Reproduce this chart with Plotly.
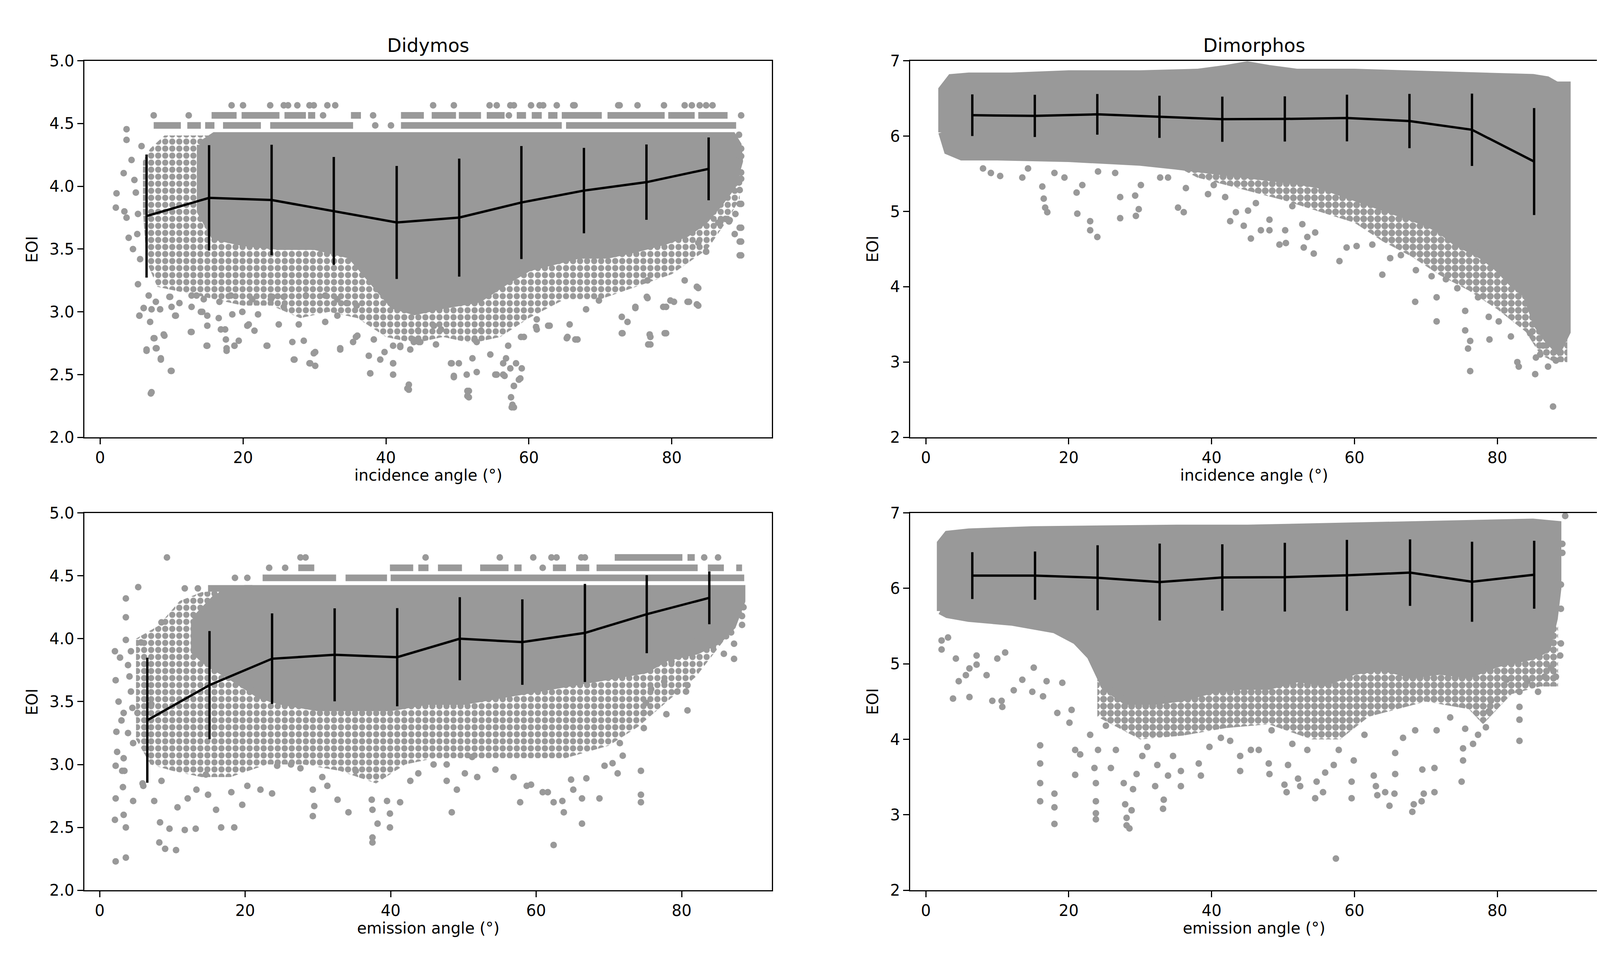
import plotly.graph_objects as go

GRAY = '#999999'
W, H = 4159, 2469

# ---- binned means (black line) and std (error bars) ----
inc_bins = [6.5, 15.25, 24.0, 32.7, 41.5, 50.25, 58.95, 67.7, 76.45, 85.15]
emi_bins_did = [6.55, 15.1, 23.7, 32.3, 40.9, 49.5, 58.1, 66.7, 75.2, 83.8]
emi_bins_dim = [6.5, 15.28, 24.04, 32.73, 41.5, 50.25, 58.94, 67.78, 76.46, 85.16]

did_inc_mean = [3.763, 3.908, 3.891, 3.804, 3.712, 3.751, 3.871, 3.966, 4.033, 4.139]
did_inc_std = [0.49, 0.42, 0.44, 0.43, 0.45, 0.47, 0.45, 0.34, 0.30, 0.25]
dim_inc_mean = [6.277, 6.268, 6.289, 6.256, 6.224, 6.228, 6.240, 6.200, 6.084, 5.662]
dim_inc_std = [0.276, 0.28, 0.27, 0.28, 0.30, 0.30, 0.31, 0.36, 0.48, 0.71]
did_emi_mean = [3.352, 3.631, 3.841, 3.872, 3.853, 4.0, 3.973, 4.046, 4.195, 4.325]
did_emi_std = [0.497, 0.43, 0.36, 0.37, 0.39, 0.33, 0.34, 0.39, 0.31, 0.21]
dim_emi_mean = [6.169, 6.169, 6.141, 6.084, 6.145, 6.149, 6.173, 6.209, 6.088, 6.181]
dim_emi_std = [0.31, 0.32, 0.43, 0.51, 0.44, 0.455, 0.47, 0.44, 0.53, 0.45]

# ---- dense part of each point cloud (outline of marker centres) ----
did_inc_core_x = [14, 16, 88.5, 89.3, 89.5, 88.5, 86.5, 84.5, 82, 79, 75, 71, 67, 63, 60, 57, 53, 48, 44, 41, 38, 35, 30, 25, 20, 16, 14]
did_inc_core_y = [4.33, 4.405, 4.405, 4.33, 4.2, 4.0, 3.85, 3.72, 3.62, 3.56, 3.50, 3.45, 3.45, 3.40, 3.35, 3.25, 3.10, 3.05, 3.0, 3.05, 3.25, 3.45, 3.52, 3.52, 3.55, 3.6, 3.8]
did_inc_halo_x = [6, 7, 9, 88.5, 89.5, 89.5, 88, 85, 80, 75, 70, 65, 60, 56, 52, 48, 44, 40, 36, 32, 28, 24, 20, 16, 12, 8, 6.5, 6]
did_inc_halo_y = [4.2, 4.3, 4.405, 4.405, 4.3, 3.9, 3.75, 3.5, 3.3, 3.2, 3.1, 3.1, 2.95, 2.8, 2.75, 2.8, 2.75, 2.8, 2.95, 3.0, 2.95, 3.05, 3.05, 3.1, 3.15, 3.2, 3.4, 3.8]

dim_inc_core_x = [2.2, 2.2, 3.5, 6, 12, 20, 30, 38, 42, 45, 48, 52, 60, 70, 80, 85, 87, 88.3, 89.8,
                  89.8, 88.5, 87, 85.5, 84, 82, 80, 78, 76, 74, 72, 70, 67, 64, 61, 58, 55, 52, 48, 44, 40, 35, 30, 25, 20, 10, 5, 3]
dim_inc_core_y = [6.05, 6.62, 6.78, 6.80, 6.80, 6.83, 6.83, 6.85, 6.90, 6.95, 6.90, 6.85, 6.85, 6.83, 6.80, 6.78, 6.75, 6.68, 6.68,
                  3.4, 3.15, 3.3, 3.5, 3.9, 4.05, 4.25, 4.4, 4.5, 4.6, 4.75, 4.85, 4.95, 5.05, 5.15, 5.25, 5.35, 5.4, 5.45, 5.5, 5.55, 5.6, 5.65, 5.68, 5.7, 5.72, 5.72, 5.8]
dim_inc_halo_x = [36, 89.8, 89.8, 88, 86, 84, 80, 76, 72, 68, 64, 60, 55, 50, 44, 38, 36]
dim_inc_halo_y = [5.8, 5.8, 3.0, 3.0, 3.1, 3.4, 3.7, 3.95, 4.15, 4.4, 4.6, 4.85, 5.0, 5.15, 5.3, 5.45, 5.55]

did_emi_core_x = [13, 16, 20, 88.3, 88.3, 87, 85, 82, 78, 75, 70, 65, 60, 55, 50, 45, 40, 35, 30, 25, 22, 18, 15, 13]
did_emi_core_y = [4.15, 4.33, 4.40, 4.40, 4.3, 4.1, 3.98, 3.9, 3.85, 3.75, 3.7, 3.65, 3.6, 3.55, 3.5, 3.5, 3.45, 3.45, 3.45, 3.5, 3.55, 3.7, 3.8, 3.9]
did_emi_halo_x = [5, 8, 11, 14, 20, 88.3, 88.3, 86, 82, 78, 74, 70, 64, 58, 52, 46, 42, 38, 33, 28, 23, 18, 14, 10, 7, 5]
did_emi_halo_y = [4.0, 4.1, 4.3, 4.37, 4.40, 4.40, 4.2, 4.0, 3.7, 3.5, 3.3, 3.15, 3.05, 3.05, 3.05, 3.05, 3.0, 2.85, 2.95, 3.0, 3.0, 2.9, 2.9, 2.95, 3.0, 3.2]

dim_emi_core_x = [2.0, 2.0, 3, 6, 15, 25, 35, 45, 55, 65, 75, 85, 88.5, 88.5, 88, 87,
                  85, 80, 76, 72, 68, 64, 60, 56, 52, 48, 44, 40, 36, 32, 28, 25, 23, 21, 18, 12, 6, 3]
dim_emi_core_y = [5.7, 6.6, 6.72, 6.75, 6.78, 6.80, 6.80, 6.80, 6.82, 6.85, 6.87, 6.88, 6.85, 6.0, 5.6, 5.2,
                  5.1, 5.0, 4.85, 4.9, 4.85, 4.95, 4.9, 4.75, 4.8, 4.7, 4.7, 4.65, 4.55, 4.5, 4.5, 4.7, 5.1, 5.3, 5.45, 5.55, 5.6, 5.65]
dim_emi_halo_x = [24, 88.5, 88.5, 86, 82, 78, 76, 70, 66, 62, 58, 54, 48, 42, 36, 30, 24]
dim_emi_halo_y = [5.5, 5.5, 4.7, 4.7, 4.6, 4.2, 4.4, 4.5, 4.4, 4.3, 4.0, 4.0, 4.2, 4.15, 4.05, 4.0, 4.3]

# ---- quantised rows of points near the top of the Didymos clouds: (level, x_start, x_end) ----
did_inc_rows = [
    (4.485, 7.5, 11.3), (4.485, 12.2, 14.1), (4.485, 14.7, 16.0), (4.485, 17.2, 22.5), (4.485, 23.8, 35.4),
    (4.485, 42.1, 64.6), (4.485, 65.2, 89.0),
    (4.565, 15.6, 19.1), (4.565, 19.8, 25.1), (4.565, 25.8, 28.8), (4.565, 29.1, 30.1), (4.565, 35.1, 36.5),
    (4.565, 42.1, 45.3), (4.565, 46.4, 49.8), (4.565, 50.2, 53.3), (4.565, 54.1, 56.6), (4.565, 58.3, 59.6),
    (4.565, 60.4, 61.8), (4.565, 62.7, 64.0), (4.565, 64.6, 70.2), (4.565, 71.0, 79.0), (4.565, 79.5, 83.2),
    (4.565, 83.7, 87.8),
]
did_emi_rows = [
    (4.40, 14.9, 21.0),
    (4.484, 22.4, 32.5), (4.484, 33.8, 39.5), (4.484, 40.0, 88.6),
    (4.564, 27.3, 29.5), (4.564, 39.9, 43.1), (4.564, 43.8, 45.2), (4.564, 46.5, 49.8), (4.564, 52.3, 56.2),
    (4.564, 57.0, 58.0), (4.564, 62.3, 64.1), (4.564, 65.5, 67.3), (4.564, 68.3, 82.2), (4.564, 83.6, 85.8),
    (4.564, 87.5, 88.3),
    (4.646, 70.8, 80.1), (4.646, 80.8, 81.8),
]

# ---- individual scattered points ----
did_inc_pts_x = [
    7.5, 12.4, 31.2, 38.2, 38.5, 40.7, 57.2, 89.7,
    18.4, 20.0, 23.8, 25.7, 26.3, 27.6, 29.3, 29.9, 31.8, 32.9, 46.6, 49.5, 54.5, 55.5, 57.4, 57.9,
    60.3, 61.5, 62.0, 63.9, 66.2, 66.4, 72.5, 72.7, 75.2, 78.9, 81.8, 82.8, 83.9, 84.8, 85.7,
    3.7, 3.7, 4.4, 5.8, 2.3, 2.2, 3.3, 3.4, 3.7, 4.0, 4.6, 5.2, 5.0, 5.6, 4.8, 5.3,
    5.3, 5.5, 6.1, 6.5, 7.2, 7.0, 7.6, 7.9, 8.5, 8.9, 9.9, 9.8, 10.5, 11.1, 12.7, 13.5, 14.3, 15.0, 15.0,
    16.9, 17.6, 17.7, 18.8, 19.9, 20.6, 22.1, 23.4, 23.9, 25.7, 27.1, 27.8, 29.3, 29.9, 31.5, 33.6, 35.8,
    37.8, 38.3, 39.8, 41.0, 42.0, 43.0, 43.8, 44.5, 46.7, 49.2, 49.5, 51.4, 51.6, 52.1, 52.4, 54.6, 55.3,
    56.4, 56.8, 57.1, 57.5, 57.6, 57.9, 58.2, 58.8, 58.9, 61.0, 62.7, 65.3, 66.5, 69.8, 73.1, 74.9, 76.7,
    76.9, 76.5, 78.8, 79.0, 80.3, 82.2, 83.5, 83.5, 81.8, 84.8, 86.8, 88.0, 88.8, 89.5, 89.5, 89.5, 89.5,
    89.4, 89.0, 89.5,
    89.4, 89.7, 89.7, 89.7, 89.7, 89.5, 89.7, 89.7, 89.7, 89.7, 88.9, 88.1, 87.5, 86.5, 84.8, 83.7, 83.7,
    83.7, 82.4, 79.8, 79.2, 79.2, 77.0, 77.0, 76.6, 76.6, 73.0, 73.0, 73.8, 74.9, 68.0, 66.8, 65.4, 62.9,
    65.7, 61.1, 61.1, 59.3, 59.0, 58.6, 57.9, 57.7, 57.9, 57.4, 56.4, 55.5, 56.6, 51.4, 51.6, 51.3, 49.5,
    49.1, 50.2, 52.7, 52.7, 53.3, 47.0, 47.7, 44.8, 43.9,
    7.1, 10.0, 8.5, 7.8, 6.5, 7.5, 9.0, 12.8, 14.9, 17.7, 18.8, 19.4, 23.3, 27.2, 30.1, 29.4, 30.1, 35.4,
    33.6, 37.8, 41.0, 39.2, 41.0, 43.2, 43.2, 43.4, 44.6, 41.0, 37.6, 42.0, 36.0, 33.2, 28.5, 26.9, 25.0,
    21.6, 20.8, 17.5, 16.6, 19.9, 18.5, 15.0, 14.1, 12.8, 10.6, 10.0, 8.4, 7.2, 6.1, 5.5, 6.8, 7.8, 9.7,
    12.8, 14.5, 16.7, 18.3, 21.3, 24.1, 25.7, 28.8, 31.5, 33.2, 34.5, 35.9,
]
did_inc_pts_y = [
    4.565, 4.565, 4.565, 4.565, 4.485, 4.485, 4.565, 4.565,
    4.645, 4.645, 4.645, 4.645, 4.645, 4.645, 4.645, 4.645, 4.645, 4.645, 4.645, 4.645, 4.645, 4.645, 4.645, 4.645,
    4.645, 4.645, 4.645, 4.645, 4.645, 4.645, 4.645, 4.645, 4.645, 4.645, 4.645, 4.645, 4.645, 4.645, 4.645,
    4.455, 4.37, 4.21, 4.32, 3.944, 3.83, 4.105, 3.80, 3.75, 3.59, 3.50, 3.62, 3.95, 3.42, 4.05, 3.78,
    3.22, 2.97, 3.03, 2.69, 2.36, 2.92, 2.79, 2.71, 2.63, 2.82, 2.53, 3.12, 2.97, 3.07, 2.84, 3.13, 3.0, 2.73, 2.89,
    2.86, 2.78, 2.71, 2.73, 3.0, 2.89, 2.98, 2.73, 3.1, 3.04, 2.62, 2.9, 2.59, 2.67, 2.92, 2.71, 2.80,
    2.51, 2.78, 2.68, 2.59, 2.72, 2.39, 2.78, 2.85, 2.89, 2.59, 2.49, 2.37, 2.32, 2.63, 2.78, 2.66, 2.50,
    2.50, 2.63, 2.73, 2.32, 2.24, 2.41, 2.59, 2.47, 2.80, 2.88, 2.89, 2.79, 2.78, 3.09, 2.83, 3.03, 2.74,
    2.82, 3.12, 3.04, 2.83, 3.08, 3.08, 3.06, 3.20, 3.25, 3.48, 3.72, 3.72, 3.62, 3.67, 3.56, 3.45, 3.86,
    4.03, 4.13, 4.24,
    4.41, 4.30, 4.24, 4.11, 4.06, 3.97, 3.86, 3.67, 3.56, 3.45, 3.78, 3.73, 3.74, 3.71, 3.48, 3.55, 3.19,
    3.05, 3.08, 3.09, 3.04, 2.83, 2.80, 2.74, 3.11, 3.25, 2.83, 2.96, 2.92, 3.04, 3.02, 2.78, 2.80, 2.89,
    2.90, 2.86, 2.94, 2.80, 2.55, 2.46, 2.41, 2.26, 2.24, 2.55, 2.59, 2.50, 2.49, 2.33, 2.37, 2.50, 2.48,
    2.59, 2.59, 2.52, 2.76, 2.85, 2.74, 2.86, 2.76, 2.76,
    2.35, 2.53, 2.62, 2.71, 2.70, 2.79, 2.81, 2.84, 2.73, 2.69, 2.73, 2.77, 2.73, 2.62, 2.57, 2.59, 2.68, 2.76,
    2.70, 2.51, 2.50, 2.62, 2.59, 2.42, 2.38, 2.70, 2.76, 2.73, 2.65, 2.73, 2.81, 2.97, 2.77, 2.76, 2.90,
    2.85, 2.90, 2.86, 2.95, 3.0, 2.98, 2.97, 3.0, 3.04, 2.97, 3.04, 3.02, 3.02, 3.03, 2.97, 3.13, 3.08, 3.12,
    3.13, 3.10, 3.08, 3.13, 3.10, 3.12, 3.12, 3.13, 3.13, 3.10, 3.07, 3.05,
]

dim_inc_pts_x = [
    8.0, 9.1, 10.4, 13.5, 14.3, 16.3, 16.5, 16.7, 17.0, 18.0, 19.4, 21.1, 21.2, 21.9, 23.0, 23.0, 24.0, 24.1,
    26.5, 27.2, 27.2, 29.3, 29.4, 29.8, 30.1, 32.8, 33.9, 35.3, 36.1, 36.4, 39.5, 40.3, 41.9, 42.6, 43.4,
    44.5, 45.1, 45.5, 46.2, 46.9, 48.1, 48.1, 49.5, 50.3, 50.4, 51.3, 52.7, 52.9, 53.4, 54.3, 54.5, 57.9,
    58.9, 60.3, 62.5, 63.9, 65.0, 66.5, 68.5, 68.6, 70.8, 71.5, 71.5, 72.8, 74.4, 75.5, 75.5, 75.9, 76.2,
    76.2, 77.3, 78.8, 78.9, 80.2, 81.9, 82.8, 83.0, 85.3, 85.4, 86.0, 88.2, 87.8, 88.9, 87.1, 86.4, 84.6,
]
dim_inc_pts_y = [
    5.57, 5.51, 5.47, 5.45, 5.57, 5.33, 5.17, 5.05, 4.99, 5.51, 5.45, 5.25, 4.97, 5.35, 4.87, 4.75, 4.66, 5.53,
    5.51, 5.19, 4.91, 5.21, 4.94, 5.03, 5.35, 5.45, 5.45, 5.05, 4.99, 5.31, 5.23, 5.35, 5.19, 4.87, 4.99,
    4.81, 5.01, 4.64, 5.11, 4.75, 4.89, 4.75, 4.56, 4.75, 4.58, 5.07, 4.83, 4.52, 4.66, 4.44, 4.72, 4.34,
    4.52, 4.54, 4.56, 4.16, 4.38, 4.42, 3.80, 4.22, 4.14, 3.86, 3.54, 4.10, 3.98, 3.68, 3.42, 3.18, 2.88,
    3.28, 3.86, 3.60, 3.30, 3.54, 3.34, 3.00, 2.94, 2.84, 3.06, 3.10, 3.02, 2.41, 3.22, 2.94, 3.22, 3.38,
]

did_emi_pts_x = [
    18.6, 20.3, 23.3, 25.5, 60.9, 9.25, 27.6, 28.3, 44.8, 55.0, 59.6, 62.1, 62.8, 66.2, 66.7, 83.1, 85.0, 11.7, 13.5,
    2.1, 2.2, 2.3, 2.2, 2.2, 2.1, 2.2, 3.6, 3.6, 3.3, 3.2, 3.1, 3.3, 3.3, 3.6, 3.6, 3.6, 3.9, 4.3, 4.3, 4.6,
    4.6, 5.3, 5.2, 5.7, 5.9, 6.0, 7.1, 7.5, 8.2, 8.3, 9.0, 9.6, 8.5, 8.5, 10.5, 10.7, 11.7, 12.1, 13.2, 13.3,
    14.6, 14.9, 16.0, 16.7, 18.5, 18.1, 19.6, 20.3, 22.1, 23.7, 24.4, 26.3, 27.6, 29.3, 29.5, 29.3, 30.6,
    31.3, 32.7, 34.2, 35.2, 37.4, 37.5, 37.5, 37.5, 38.2, 39.5, 39.9, 39.9, 41.3, 42.7, 43.8, 45.9, 47.7,
    47.7, 48.4, 49.1, 50.2, 51.2, 51.9, 54.4, 56.9, 57.8, 58.7, 59.3, 60.9, 61.6, 62.4, 62.4, 63.6, 63.8,
    64.8, 65.1, 66.3, 66.3, 66.9, 68.7, 69.4, 70.5, 71.2, 71.9, 71.5, 74.4, 74.4, 74.4, 74.8, 74.8, 75.1,
    77.9, 79.4, 80.6, 80.8, 80.8, 78.6, 81.5, 84.3, 86.1, 87.2, 87.2, 86.8, 88.3, 88.3, 88.5, 85.8, 77.6, 75.8,
    2.6, 3.0, 2.4, 3.9, 4.1, 2.8, 3.4, 4.5,
]
did_emi_pts_y = [
    4.484, 4.484, 4.564, 4.564, 4.564, 4.646, 4.646, 4.646, 4.646, 4.646, 4.646, 4.646, 4.646, 4.646, 4.646, 4.646, 4.646, 4.40, 4.40,
    3.90, 3.67, 3.26, 2.99, 2.73, 2.56, 2.23, 2.26, 2.50, 2.60, 2.82, 2.95, 3.05, 3.41, 4.17, 4.32, 3.99, 3.79, 3.90, 3.58, 2.71,
    3.17, 4.41, 3.41, 3.97, 2.85, 2.83, 3.48, 2.71, 2.38, 2.54, 2.33, 2.49, 4.13, 2.87, 2.32, 2.66, 2.48, 2.73, 2.49, 2.80,
    2.92, 2.76, 2.64, 2.50, 2.50, 2.78, 2.68, 2.83, 2.80, 2.77, 2.99, 3.0, 2.97, 2.80, 2.67, 2.59, 2.90,
    2.83, 2.72, 2.62, 2.95, 2.72, 2.64, 2.42, 2.38, 2.53, 2.71, 2.61, 2.50, 2.70, 2.87, 2.93, 3.0, 3.0,
    2.87, 2.62, 2.80, 2.93, 3.06, 2.90, 2.96, 2.90, 2.70, 2.83, 2.84, 2.78, 2.78, 2.36, 2.70, 2.71, 2.62,
    2.88, 2.80, 2.53, 2.73, 2.89, 2.73, 2.99, 3.01, 2.93, 3.07, 3.17, 2.95, 2.76, 2.70, 3.29, 3.41, 3.49,
    3.40, 3.58, 3.58, 3.43, 3.63, 3.82, 4.02, 3.94, 4.02, 3.96, 3.84, 4.05, 4.11, 4.18, 4.25, 3.88, 3.66, 3.60,
    3.50, 3.35, 3.10, 3.25, 3.70, 3.85, 2.95, 3.45,
]

dim_emi_pts_x = [
    2.2, 2.2, 3.1, 3.8, 4.2, 4.6, 5.6, 6.1, 6.1, 7.1, 7.1, 8.5, 9.3, 10.0, 10.6, 10.7, 11.1, 12.3, 13.5, 14.9,
    15.1, 16.0, 16.0, 16.0, 16.0, 16.4, 16.9, 18.0, 18.0, 18.0, 18.4, 19.1, 20.1, 20.4, 20.9, 20.9, 21.6, 23.0,
    23.6, 23.8, 23.8, 23.8, 23.8, 24.1, 25.2, 25.9, 26.6, 27.7, 27.9, 28.1, 28.1, 28.5, 28.8, 29.0, 29.5, 30.3,
    31.0, 32.1, 32.4, 33.2, 33.3, 33.9, 34.6, 35.7, 35.7, 38.2, 38.5, 39.7, 41.3, 42.6, 44.0, 44.0, 45.5, 46.6,
    48.0, 48.1, 48.4, 50.2, 50.5, 50.7, 51.3, 52.1, 52.4, 53.4, 54.5, 54.7, 55.6, 55.9, 57.1, 57.4, 57.8, 59.6,
    59.6, 59.9, 61.4, 62.7, 63.0, 63.2, 64.3, 64.9, 65.6, 65.7, 65.7, 66.8, 68.1, 68.3, 68.5, 69.4, 69.5, 69.7,
    71.2, 71.2, 71.5, 73.4, 75.0, 75.2, 75.2, 75.5, 76.6, 77.3, 78.4, 78.8, 79.1, 80.1, 81.3, 83.1, 83.1, 83.1,
    83.1, 84.2, 85.7, 86.6, 87.5, 88.2, 88.8, 88.9, 88.9, 88.9, 89.1, 89.1, 89.5,
]
dim_emi_pts_y = [
    5.19, 5.31, 5.35, 4.54, 5.07, 4.77, 4.85, 4.56, 4.94, 5.11, 4.99, 4.85, 4.51, 5.07, 4.51, 4.43, 5.15, 4.65, 4.79, 4.63,
    4.95, 3.68, 3.92, 3.42, 3.18, 4.57, 4.77, 3.28, 3.10, 2.88, 4.35, 4.75, 4.22, 4.39, 3.86, 3.53, 3.80, 4.06,
    3.62, 3.42, 3.18, 3.02, 2.94, 3.86, 4.18, 3.62, 3.86, 3.42, 3.14, 2.96, 2.86, 2.82, 3.06, 3.34, 3.54, 3.78,
    3.90, 3.38, 3.66, 3.08, 3.20, 3.52, 3.78, 3.38, 3.58, 3.68, 3.52, 3.90, 4.02, 3.98, 3.58, 3.78, 3.86, 3.86,
    3.68, 3.54, 4.12, 3.40, 3.30, 3.66, 3.94, 3.48, 3.38, 3.86, 3.22, 3.44, 3.30, 3.56, 3.66, 2.42, 3.86, 3.44,
    3.22, 3.72, 4.06, 3.52, 3.38, 3.26, 3.30, 3.12, 3.28, 3.54, 3.82, 4.02, 3.04, 3.14, 4.12, 3.18, 3.60, 3.28,
    3.30, 3.62, 4.12, 4.29, 3.44, 3.72, 3.88, 4.14, 3.94, 4.06, 4.16, 4.37, 4.51, 4.63, 4.79, 3.98, 4.26, 4.43,
    4.63, 4.77, 4.63, 4.83, 4.95, 4.83, 5.11, 5.27, 5.73, 6.05, 6.59, 6.47, 6.96,
]

# ---- axes ----
x_ticks = [0, 20, 40, 60, 80]
did_y_ticks = [2.0, 2.5, 3.0, 3.5, 4.0, 4.5, 5.0]
dim_y_ticks = [2, 3, 4, 5, 6, 7]

panels = [
    dict(bins=inc_bins, mean=did_inc_mean, std=did_inc_std,
         core=(did_inc_core_x, did_inc_core_y), halo=(did_inc_halo_x, did_inc_halo_y), speck=0.62,
         rows=did_inc_rows, pts=(did_inc_pts_x, did_inc_pts_y),
         xr=[-2.2, 94.0], yr=[2, 5], yt=did_y_ticks, yfmt='.1f',
         xlabel='incidence angle (°)', title='Didymos'),
    dict(bins=inc_bins, mean=dim_inc_mean, std=dim_inc_std,
         core=(dim_inc_core_x, dim_inc_core_y), halo=(dim_inc_halo_x, dim_inc_halo_y), speck=0.75,
         rows=[], pts=(dim_inc_pts_x, dim_inc_pts_y),
         xr=[-2.2, 94.1], yr=[2, 7], yt=dim_y_ticks, yfmt='d',
         xlabel='incidence angle (°)', title='Dimorphos'),
    dict(bins=emi_bins_did, mean=did_emi_mean, std=did_emi_std,
         core=(did_emi_core_x, did_emi_core_y), halo=(did_emi_halo_x, did_emi_halo_y), speck=0.62,
         rows=did_emi_rows, pts=(did_emi_pts_x, did_emi_pts_y),
         xr=[-2.1, 92.4], yr=[2, 5], yt=did_y_ticks, yfmt='.1f',
         xlabel='emission angle (°)', title=None),
    dict(bins=emi_bins_dim, mean=dim_emi_mean, std=dim_emi_std,
         core=(dim_emi_core_x, dim_emi_core_y), halo=(dim_emi_halo_x, dim_emi_halo_y), speck=0.75,
         rows=[], pts=(dim_emi_pts_x, dim_emi_pts_y),
         xr=[-2.2, 94.1], yr=[2, 7], yt=dim_y_ticks, yfmt='d',
         xlabel='emission angle (°)', title=None),
]

# axes box positions in pixels (left, right, top, bottom)
boxes = [(208, 1968, 127, 1110), (2322, 4083, 127, 1110),
         (208, 1968, 1307, 2292), (2322, 4083, 1307, 2292)]

MS = 17      # marker diameter
LW = 6       # mean line / error bar width
AXW = 2.7

fig = go.Figure()
annotations = []

for i, (p, box) in enumerate(zip(panels, boxes)):
    n = '' if i == 0 else str(i + 1)
    xa, ya = 'x' + n, 'y' + n
    l, r, t, b = box

    # speckled (less dense) part of the cloud
    hx, hy = p['halo']
    fig.add_trace(go.Scatter(x=hx + [hx[0]], y=hy + [hy[0]], xaxis=xa, yaxis=ya, mode='lines',
                             fill='toself', fillcolor='rgba(0,0,0,0)', line=dict(width=0),
                             fillpattern=dict(shape='.', fgcolor=GRAY, fgopacity=1,
                                              bgcolor='rgba(0,0,0,0)', size=18, solidity=p['speck']),
                             hoverinfo='skip'))
    # dense part of the cloud
    cx, cy = p['core']
    fig.add_trace(go.Scatter(x=cx + [cx[0]], y=cy + [cy[0]], xaxis=xa, yaxis=ya, mode='lines',
                             fill='toself', fillcolor=GRAY, line=dict(color=GRAY, width=MS),
                             hoverinfo='skip'))
    if p['rows']:
        rx, ry = [], []
        for lvl, x0, x1 in p['rows']:
            rx += [x0, x1, None]
            ry += [lvl, lvl, None]
        fig.add_trace(go.Scatter(x=rx, y=ry, xaxis=xa, yaxis=ya, mode='lines',
                                 line=dict(color=GRAY, width=MS), hoverinfo='skip'))
    px_, py_ = p['pts']
    fig.add_trace(go.Scatter(x=px_, y=py_, xaxis=xa, yaxis=ya, mode='markers',
                             marker=dict(size=MS, color=GRAY, line=dict(width=0))))
    fig.add_trace(go.Scatter(x=p['bins'], y=p['mean'], xaxis=xa, yaxis=ya, mode='lines',
                             line=dict(color='black', width=LW),
                             error_y=dict(type='data', array=p['std'], visible=True,
                                          color='black', thickness=LW, width=0)))

    common = dict(showline=True, linecolor='black', linewidth=AXW, mirror=True,
                  ticks='outside', ticklen=15, tickwidth=AXW, tickcolor='black',
                  showgrid=False, zeroline=False,
                  tickfont=dict(size=40, color='black', family='DejaVu Sans'))
    fig.layout['xaxis' + n] = dict(domain=[l / W, r / W], anchor=ya, range=p['xr'],
                                   tickvals=x_ticks, **common)
    fig.layout['yaxis' + n] = dict(domain=[1 - b / H, 1 - t / H], anchor=xa, range=p['yr'],
                                   tickvals=p['yt'], tickformat=p['yfmt'], **common)

    cxp = (l + r) / 2 / W
    annotations.append(dict(text=p['xlabel'], x=cxp, y=1 - (b + 99) / H, xref='paper', yref='paper',
                            showarrow=False, xanchor='center', yanchor='middle',
                            font=dict(size=40, color='black')))
    ylab_x = (l - 134) if i % 2 == 0 else (l - 96)
    annotations.append(dict(text='EOI', x=ylab_x / W, y=1 - (t + b) / 2 / H, xref='paper', yref='paper',
                            showarrow=False, xanchor='center', yanchor='middle', textangle=-90,
                            font=dict(size=40, color='black')))
    if p['title']:
        annotations.append(dict(text=p['title'], x=cxp, y=1 - 87 / H, xref='paper', yref='paper',
                                showarrow=False, xanchor='center', yanchor='middle',
                                font=dict(size=48, color='black')))

fig.update_layout(width=W, height=H, margin=dict(l=0, r=0, t=0, b=0),
                  plot_bgcolor='white', paper_bgcolor='white', showlegend=False,
                  font=dict(family='DejaVu Sans', color='black'),
                  annotations=annotations)

fig.write_html('out.html')
